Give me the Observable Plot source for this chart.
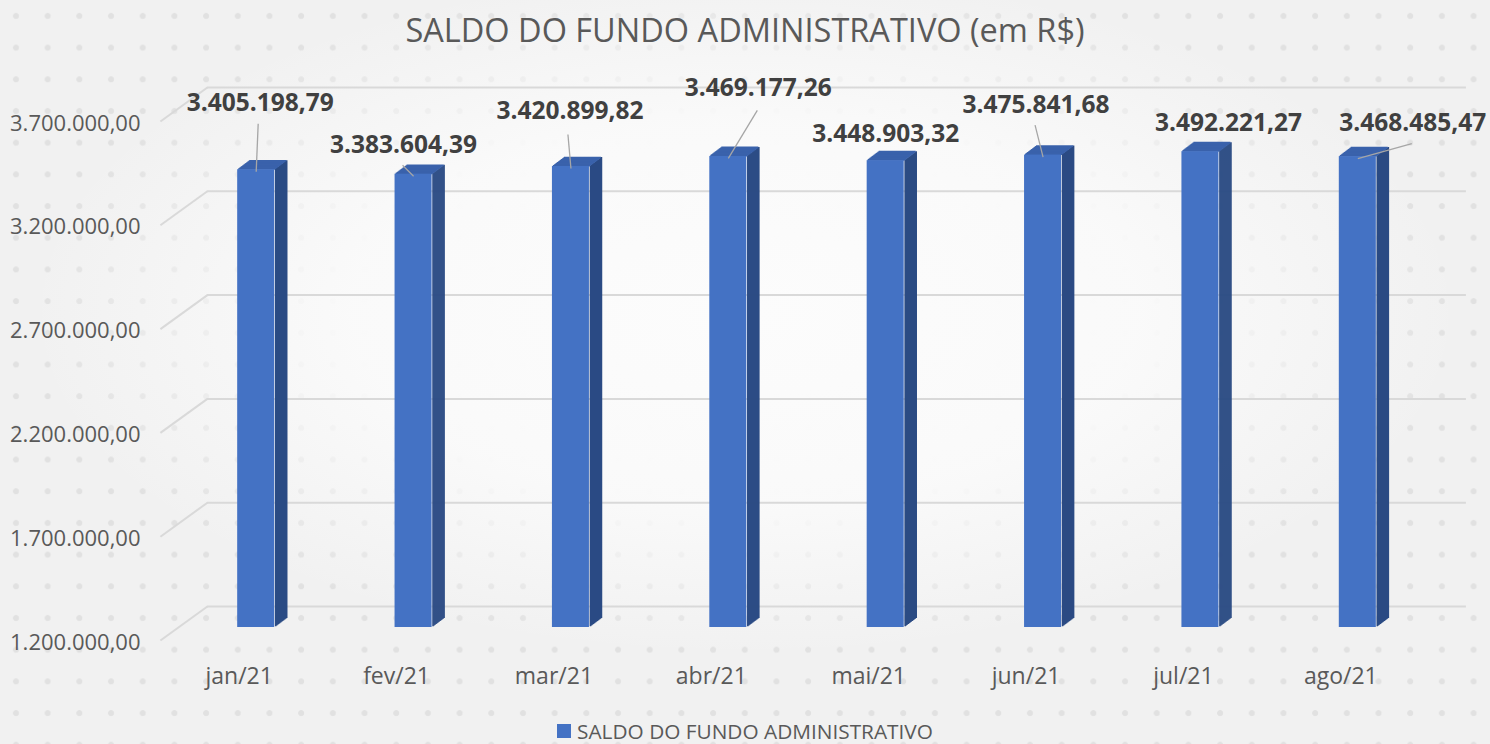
<!DOCTYPE html>
<html>
<head>
<meta charset="utf-8">
<script src="https://cdn.jsdelivr.net/npm/d3@7"></script>
<script src="https://cdn.jsdelivr.net/npm/@observablehq/plot@0.6"></script>
<style>
  html, body { margin: 0; padding: 0; width: 1490px; height: 744px; overflow: hidden; }
  body {
    background:
      radial-gradient(ellipse 48% 46% at 50% 42%, rgba(252,252,252,1) 0%, rgba(250,250,250,0.97) 55%, rgba(245,245,245,0) 100%),
      radial-gradient(circle at 16px 16px, #e1e1e1 0, #e1e1e1 2.6px, rgba(225,225,225,0) 3.4px) 0 0 / 31.7px 31.7px,
      #f1f1f1;
    font-family: "Open Sans", sans-serif;
  }
  #title { height: 62px; line-height: 60px; text-align: center; font-size: 32.5px; color: #595959; white-space: nowrap; }
  #legend { height: 32px; display: flex; align-items: center; justify-content: center; gap: 6px; font-size: 20.8px; color: #595959; padding-top: 6px; box-sizing: border-box; }
  #legend .sw { width: 14px; height: 14px; background: #4472C4; }
  #chart svg { display: block; }
</style>
</head>
<body>
<div id="title">SALDO DO FUNDO ADMINISTRATIVO (em R$)</div>
<div id="chart"></div>
<div id="legend"><span class="sw"></span><span>SALDO DO FUNDO ADMINISTRATIVO</span></div>
<script>
// ---- data ----
const months = ["jan/21", "fev/21", "mar/21", "abr/21", "mai/21", "jun/21", "jul/21", "ago/21"];
const saldo = [3405198.79, 3383604.39, 3420899.82, 3469177.26, 3448903.32, 3475841.68, 3492221.27, 3468485.47];
const yTicks = [1200000, 1700000, 2200000, 2700000, 3200000, 3700000];

// ---- layout (pixel offsets of the manually placed data labels / leader lines) ----
const labelOffsets = [[4, -67], [-10, -29], [-1, -55], [30, -68], [0, -26], [-7, -50], [28, -28], [55, -33]];
const leaderEnds = [[2, -48], [-11, -11], [-3, -34], [29, -48], null, [-8, -32], null, [54, -15]];

const FONT = '"Open Sans", sans-serif';
const FRONT = "#4472C4", SIDE = "#2B4B84", TOP = "#3A62AB", GRID = "#d9d9d9";
const BASE = yTicks[0];
const HALF = 0.1176;       // half bar width in category units
const DEPTH = 12;          // extrusion depth in px
const fmt = d3.formatLocale({decimal: ",", thousands: ".", grouping: [3], currency: ["R$", ""]}).format(",.2f");

const data = months.map((m, i) => ({i, month: m, value: saldo[i]}));
const steps = d3.range(1, DEPTH + 1);

const marks = [];
// back-wall gridlines
marks.push(Plot.ruleY(yTicks, {y: d => d, x1: -0.31, x2: 7.69, dy: -21, stroke: GRID, strokeWidth: 2}));
// side-wall diagonals
marks.push(Plot.vector(yTicks, {x: -0.31, y: d => d, dy: -21, length: 58, rotate: Math.atan2(-47, -34) * 180 / Math.PI,
  anchor: "start", r: 0, stroke: GRID, strokeWidth: 2, strokeLinecap: "butt"}));
// 3D extrusion: side and top faces
for (const k of steps) {
  marks.push(Plot.ruleX(data, {x: d => d.i + HALF, y1: BASE, y2: "value", dx: k, dy: -0.75 * k, stroke: SIDE, strokeWidth: 1.6}));
}
for (const k of steps) {
  marks.push(Plot.ruleY(data, {y: "value", x1: d => d.i - HALF, x2: d => d.i + HALF, dx: k, dy: -0.75 * k, stroke: TOP, strokeWidth: 1.6}));
}
// front faces
marks.push(Plot.rect(data, {x1: d => d.i - HALF, x2: d => d.i + HALF, y1: BASE, y2: "value", fill: FRONT}));
// leader lines
data.forEach((d, i) => {
  const e = leaderEnds[i];
  if (!e) return;
  marks.push(Plot.vector([d], {x: "i", y: "value", dy: 2, length: Math.hypot(e[0], e[1]),
    rotate: Math.atan2(e[0], -e[1]) * 180 / Math.PI, anchor: "start", r: 0,
    stroke: "#a6a6a6", strokeWidth: 1.3, strokeLinecap: "butt"}));
});
// data labels
data.forEach((d, i) => {
  marks.push(Plot.text([d], {x: "i", y: "value", text: d => fmt(d.value), dx: labelOffsets[i][0], dy: labelOffsets[i][1],
    fontSize: 24.5, fontWeight: "bold", fill: "#404040"}));
});
// axes
marks.push(Plot.axisY(yTicks, {tickFormat: fmt, tickSize: 0, tickPadding: 37, dy: 15, fontSize: 22, color: "#595959", label: null}));
marks.push(Plot.axisX(d3.range(months.length), {tickFormat: i => months[i], tickSize: 0, tickPadding: 40, dx: -17, fontSize: 23, color: "#595959", label: null}));

const chart = Plot.plot({
  width: 1490,
  height: 650,
  marginTop: 46,
  marginBottom: 85,
  marginLeft: 177,
  marginRight: 54,
  x: {type: "linear", domain: [-0.5, 7.5]},
  y: {type: "linear", domain: [BASE, 3700000]},
  style: {fontFamily: FONT, background: "transparent", overflow: "visible"},
  marks
});
document.getElementById("chart").appendChild(chart);
</script>
</body>
</html>
